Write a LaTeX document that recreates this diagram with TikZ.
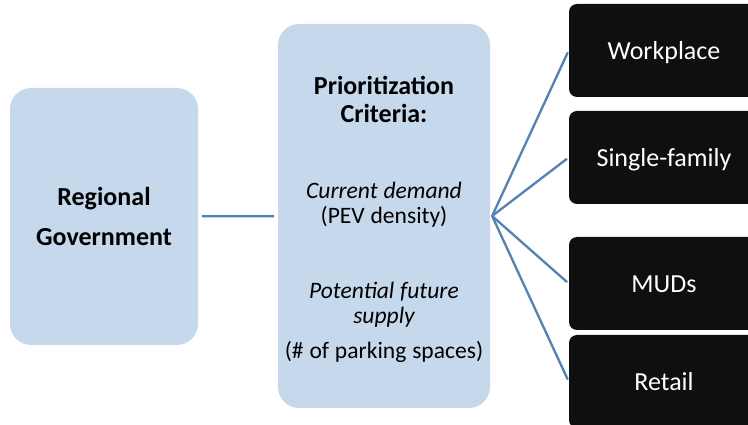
\documentclass[tikz,border=0pt]{standalone}
\usepackage{xcolor}
\usepackage{fontspec}
\setmainfont{Carlito}
\usepackage{tikz}
\usetikzlibrary{positioning}
\definecolor{paleblue}{RGB}{198,217,236}
\definecolor{linkblue}{RGB}{79,129,189}
\definecolor{nearblack}{RGB}{15,15,15}
\tikzset{basic/.style={draw=none,inner sep=0pt,
                       text badly centered}}
\tikzset{level/.style={basic,fill=paleblue,rounded corners=0.42cm}}

\begin{document}
\begin{tikzpicture}[
    % styles for clarity
    actor/.style   ={level, minimum width=3.76cm, minimum height=5.14cm,
                     align=center,
                     font=\fontsize{14.8}{22.7}\selectfont\bfseries},
    criteria/.style={level, text width=4.24cm, minimum height=7.68cm,
                     align=center},
    site/.style    ={basic, fill=nearblack, text=white, rounded corners=0.16cm,
                     minimum width=3.8cm, minimum height=1.86cm,
                     text height=11pt, text depth=0.2pt,
                     font=\fontsize{14.8}{17}\selectfont},
    link/.style    ={draw=linkblue, line width=1.3pt}
  ]
    \useasboundingbox (0,0) rectangle (14.96,-8.5);
    \clip (0,0) rectangle (14.96,-8.5);

    \node[actor](gov) at (2.08,-4.33) {Regional\\Government};
    \node[criteria](crit) at (7.68,-4.32) {%
      {\fontsize{14.8}{15.9}\selectfont\bfseries
       \rule{0pt}{14pt}Prioritization\\ Criteria:\par}
      \fontsize{13.4}{14.2}\selectfont
      \vspace{29.5pt}
      {\itshape Current demand\par}
      (PEV density)\par
      \vspace{28.3pt}
      {\itshape Potential future\\ supply\par}
      \vspace{5.6pt}
      (\# of parking spaces)\par};

    \node[site](work)   at (13.28,-1.01) {Workplace};
    \node[site](single) at (13.28,-3.15) {Single-family};
    \node[site](mud)    at (13.28,-5.67) {MUDs};
    \node[site](retail) at (13.28,-7.63) {Retail};

    \draw[link, shorten <=2pt, shorten >=2pt] (gov) -- (crit);
    \foreach \s in {work,single,mud,retail}
      \draw[link, shorten >=1.2pt] ([xshift=1pt]crit.east) -- (\s.west);
  \end{tikzpicture}
\end{document}
